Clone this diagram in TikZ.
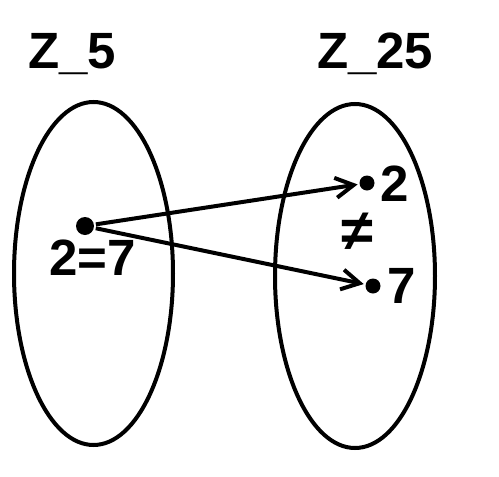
\documentclass[tikz,border=0pt]{standalone}
\usepackage{fontspec}
\setmainfont{Liberation Sans}
\usetikzlibrary{positioning}
\usetikzlibrary{shapes.geometric}
\usetikzlibrary{arrows.meta}
\tikzset{
    mapping diagram/.style={
            x=1pt,y=-1pt,line width=4pt,
            set/.style={draw,ellipse,inner sep=0pt},
            elem/.style={circle,fill,inner sep=0pt,minimum size=15pt},
            lbl/.style={inner sep=0pt,anchor=base west,font=\bfseries\fontsize{51}{60}\selectfont},
            arrow/.style={-{Straight Barb[length=18pt,width=20pt]}}
        }
    }

\begin{document}
\begin{tikzpicture}[mapping diagram]
                \useasboundingbox (0,0) rectangle (499,477);
                \node (A) [set,minimum width=159pt,minimum height=343pt] at (93.5,273.5) {};
                \node (B) [set,minimum width=160pt,minimum height=344pt] at (355,276) {};
                \node (nameA) [lbl] at (26,68) {Z\_5};
                \node (nameB) [lbl] at (315,68) {Z\_25};
                \node (x) [elem,minimum size=18pt] at (85,226) {};
                \node (y2) [elem] at (367,183) {};
                \node (y7) [elem] at (373,286) {};
                \node (xlbl) [lbl] at (47,275) {2=7};
                \node (y2lbl) [lbl] at (378,201) {2};
                \node (y7lbl) [lbl] at (385,303) {7};
                \node (neq) [lbl,anchor=base,font=\bfseries\fontsize{58}{60}\selectfont] at (357,250) {≠};
                \draw [arrow] (x) -- (y2);
                \draw [arrow] (x) -- (y7);
            \end{tikzpicture}
\end{document}
